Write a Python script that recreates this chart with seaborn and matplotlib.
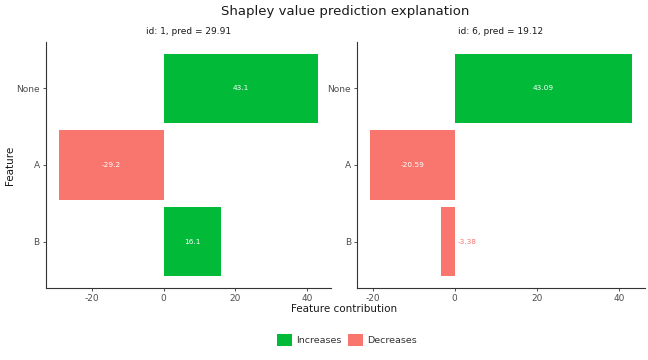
import matplotlib
matplotlib.use("Agg")
import matplotlib.pyplot as plt
import seaborn as sns
import pandas as pd
from matplotlib.patches import Patch

features = ["None", "A", "B"]
panel_titles = ["id: 1, pred = 29.91", "id: 6, pred = 19.12"]
contrib_1 = [43.1, -29.2, 16.1]
contrib_2 = [43.09, -20.59, -3.38]
labels_1 = ["43.1", "-29.2", "16.1"]
labels_2 = ["43.09", "-20.59", "-3.38"]
xticks = [-20, 0, 20, 40]

GREEN = "#00BA38"
RED = "#F8766D"

sns.set_theme(style="ticks")
plt.rcParams['font.family'] = ['DejaVu Sans']

fig = plt.figure(figsize=(6.48, 3.6), dpi=100)
ax1 = fig.add_axes([46/648, 1-288/360, (331-46)/648, (288-42)/360])
ax2 = fig.add_axes([357/648, 1-288/360, (645-357)/648, (288-42)/360])

for ax, vals, labs, title in [(ax1, contrib_1, labels_1, panel_titles[0]),
                              (ax2, contrib_2, labels_2, panel_titles[1])]:
    df = pd.DataFrame({"feature": features, "contrib": vals,
                       "sign": ["Increases" if v >= 0 else "Decreases" for v in vals]})
    sns.barplot(data=df, x="contrib", y="feature", hue="sign", order=features,
                hue_order=["Increases", "Decreases"],
                palette={"Increases": GREEN, "Decreases": RED},
                dodge=False, width=0.9, orient="h", ax=ax, legend=False,
                saturation=1, linewidth=0, edgecolor="none")
    lo, hi = min(min(vals), 0), max(max(vals), 0)
    pad = (hi - lo) * 0.05
    ax.set_xlim(lo - pad, hi + pad)
    ax.set_ylim(2.6, -0.6)
    ax.set_xticks(xticks)
    ax.set_xticklabels([str(t) for t in xticks])
    rng = hi - lo
    for i, (v, l) in enumerate(zip(vals, labs)):
        if abs(v) / rng > 0.1:
            ax.text(v / 2, i, l, ha="center", va="center", color="white", fontsize=5.3)
        else:
            ax.text(0 + rng * 0.01, i, l, ha="left", va="center", color=RED, fontsize=5.3)
    ax.set_title(title, fontsize=6.5, color="#1A1A1A", pad=6)
    ax.set_xlabel("")
    ax.set_ylabel("")
    for s in ["top", "right"]:
        ax.spines[s].set_visible(False)
    for s in ["left", "bottom"]:
        ax.spines[s].set_color("#333333")
        ax.spines[s].set_linewidth(0.8)
    ax.tick_params(axis="both", labelsize=6.5, labelcolor="#4D4D4D", color="#333333",
                   length=2.5, width=0.6, pad=2)

fig.text(345/648, 1-12/360, "Shapley value prediction explanation", ha="center", va="center",
         fontsize=9.5, color="#1A1A1A")
fig.text(344/648, 1-309/360, "Feature contribution", ha="center", va="center",
         fontsize=7.5, color="#1A1A1A")
fig.text(10/648, 1-165/360, "Feature", ha="center", va="center", rotation=90,
         fontsize=7.5, color="#1A1A1A")

handles = [Patch(facecolor=GREEN, edgecolor="none", label="Increases"),
           Patch(facecolor=RED, edgecolor="none", label="Decreases")]
fig.legend(handles=handles, loc="center", bbox_to_anchor=(347/648, 1-340/360), ncol=2,
           frameon=False, fontsize=6.8, handlelength=1.6, handleheight=1.6,
           columnspacing=0.6, handletextpad=0.5, labelcolor="#333333")

fig.savefig("out.png", dpi=100)
